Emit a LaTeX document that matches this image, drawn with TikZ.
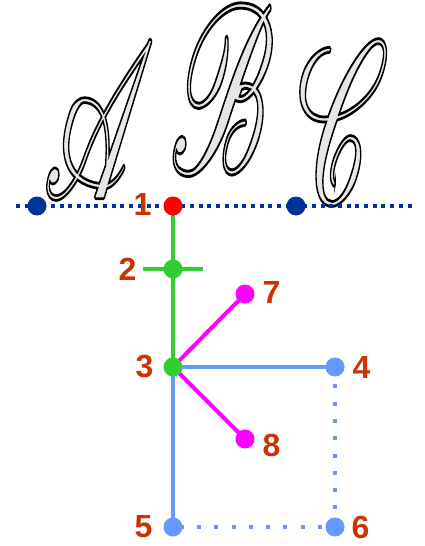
\documentclass[tikz,border=0pt]{standalone}
\usepackage{fontspec}
\usepackage{mathrsfs}
\usepackage{graphicx}
\usetikzlibrary{positioning}
\newfontfamily\numfont{Liberation Sans}
\definecolor{labelred}{HTML}{CC3300}
\definecolor{linegreen}{HTML}{33CC33}
\definecolor{linemagenta}{HTML}{FF00FF}
\definecolor{lineblue}{HTML}{6699FF}
\definecolor{darkblue}{HTML}{003399}
\definecolor{letterfill}{HTML}{E6E6E6}
% outlined letters: fill grey, stroke black
\newcommand\hollow[1]{{\color{letterfill}\special{pdf:literal direct 0 G 0.12 w 2 Tr}$\mathscr{#1}$\special{pdf:literal direct 0 Tr}}}
\tikzset{
  joint/.style={circle, fill=#1, inner sep=0pt, outer sep=0pt, minimum size=19pt},
  numlbl/.style={text=labelred, font=\numfont\bfseries\fontsize{32}{32}\selectfont, inner sep=0pt, outer sep=0pt},
  letter/.style={inner sep=0pt}
}
\begin{document}
\begin{tikzpicture}[x=1pt, y=-1pt, line width=4pt]
\useasboundingbox (0,0) rectangle (424,546);

\node[letter] (A) at (99,121) {\resizebox*{112pt}{155pt}{\hollow{A}}};
\node[letter] (B) at (222,89) {\resizebox*{105pt}{168pt}{\hollow{B}}};
\node[letter] (C) at (343,122) {\resizebox*{92pt}{160pt}{\hollow{C}}};

\coordinate (l0) at (16,206);
\coordinate (l1) at (416,206);
\draw[darkblue, dash pattern=on 4pt off 4.7pt] (l0) -- (l1);

\node[joint=darkblue] (b1) at (37,206) {};
\node[joint=darkblue] (b2) at (296,206) {};

\coordinate (p1) at (173,206);
\coordinate (p2) at (173,269);
\coordinate (p3) at (173,367);
\coordinate (p4) at (335,367);
\coordinate (p5) at (173,527);
\coordinate (p6) at (335,527);
\coordinate (p7) at (245,294);
\coordinate (p8) at (245,439);
\coordinate (c0) at (143,269);
\coordinate (c1) at (203,269);

\draw[linegreen] (p1) -- (p3);
\draw[linegreen] (c0) -- (c1);
\draw[linemagenta] (p3) -- (p7);
\draw[linemagenta] (p3) -- (p8);
\draw[lineblue] (p5) -- (p3) -- (p4);
\draw[lineblue, dash pattern=on 4pt off 13.3pt] (p4) -- (p6) -- (p5);

\node[joint=red] (n1) at (p1) {};
\node[joint=linegreen] (n2) at (p2) {};
\node[joint=linegreen] (n3) at (p3) {};
\node[joint=lineblue] (n4) at (p4) {};
\node[joint=lineblue] (n5) at (p5) {};
\node[joint=lineblue] (n6) at (p6) {};
\node[joint=linemagenta] (n7) at (p7) {};
\node[joint=linemagenta] (n8) at (p8) {};

\node[numlbl, left=12pt of n1, yshift=2pt] {1};
\node[numlbl, left=27pt of n2] {2};
\node[numlbl, left=10pt of n3] {3};
\node[numlbl, right=8pt of n4] {4};
\node[numlbl, left=11pt of n5] {5};
\node[numlbl, right=7pt of n6] {6};
\node[numlbl, right=8pt of n7, yshift=2pt] {7};
\node[numlbl, right=8pt of n8, yshift=-6pt] {8};
\end{tikzpicture}
\end{document}
